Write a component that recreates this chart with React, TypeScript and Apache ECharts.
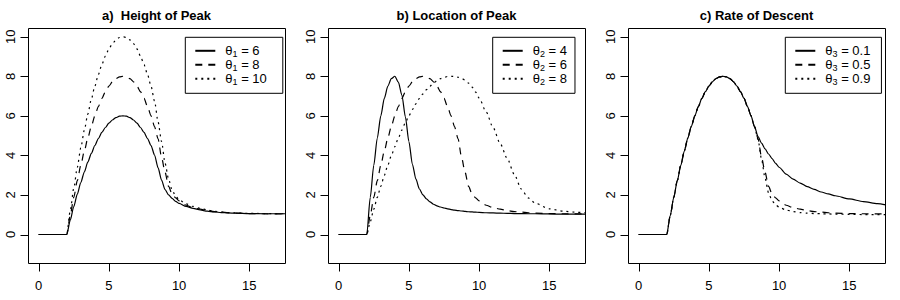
import React, { useEffect, useRef } from "react";
import * as echarts from "echarts";

// ---------- data ----------
const xValues = [
  0, 2, 2.25, 2.5, 2.75, 3, 3.25, 3.5, 3.75, 4, 4.25, 4.5, 4.75, 5, 5.25, 5.5,
  5.75, 6, 6.25, 6.5, 6.75, 7, 7.25, 7.5, 7.75, 8, 8.25, 8.5, 8.75, 9, 9.25,
  9.5, 9.75, 10, 10.5, 11, 11.5, 12, 12.5, 13, 13.5, 14, 15, 16, 17, 17.6,
];

// shared default curve (theta1 = 8, theta2 = 6, theta3 = 0.5)
const baseCurve = [
  0, 0, 0.97, 1.88, 2.72, 3.5, 4.22, 4.88, 5.47, 6,
  6.47, 6.88, 7.22, 7.5, 7.72, 7.88, 7.97, 8, 7.97, 7.88,
  7.72, 7.5, 7.22, 6.88, 6.47, 6.0, 5.45, 4.85, 3.9, 3.15,
  2.43, 2.05, 1.85, 1.7, 1.48, 1.36, 1.28, 1.21, 1.16, 1.13,
  1.1, 1.08, 1.06, 1.05, 1.04, 1.04,
];

const heightPeak6 = [
  0, 0, 0.73, 1.41, 2.04, 2.63, 3.16, 3.66, 4.1, 4.5,
  4.85, 5.16, 5.41, 5.63, 5.79, 5.91, 5.98, 6, 5.98, 5.91,
  5.79, 5.63, 5.41, 5.16, 4.85, 4.5, 4.02, 3.38, 2.75, 2.27,
  2.0, 1.83, 1.68, 1.57, 1.42, 1.32, 1.24, 1.18, 1.14, 1.11,
  1.09, 1.08, 1.06, 1.05, 1.05, 1.05,
];
const heightPeak8 = baseCurve;
const heightPeak10 = [
  0, 0, 1.21, 2.34, 3.4, 4.38, 5.27, 6.09, 6.84, 7.5,
  8.09, 8.59, 9.02, 9.38, 9.65, 9.84, 9.96, 10, 9.96, 9.84,
  9.65, 9.38, 9.02, 8.59, 8.09, 7.5, 6.75, 5.7, 4.7, 3.6,
  2.8, 2.25, 1.95, 1.75, 1.55, 1.42, 1.32, 1.24, 1.18, 1.14,
  1.11, 1.09, 1.07, 1.06, 1.05, 1.05,
];

const locationPeak4 = [
  0, 0, 1.88, 3.5, 4.88, 6, 6.88, 7.5, 7.88, 8,
  7.7, 7.05, 5.95, 4.7, 3.55, 2.8, 2.3, 2.0, 1.8, 1.65,
  1.53, 1.45, 1.39, 1.34, 1.3, 1.26, 1.23, 1.21, 1.19, 1.17,
  1.15, 1.14, 1.13, 1.12, 1.1, 1.09, 1.08, 1.07, 1.06, 1.06,
  1.05, 1.05, 1.04, 1.03, 1.03, 1.03,
];
const locationPeak6 = baseCurve;
const locationPeak8 = [
  0, 0, 0.65, 1.28, 1.88, 2.44, 2.99, 3.5, 3.99, 4.44,
  4.88, 5.28, 5.65, 6.0, 6.32, 6.61, 6.88, 7.11, 7.32, 7.5,
  7.65, 7.78, 7.88, 7.94, 7.99, 8, 7.99, 7.95, 7.9, 7.8,
  7.65, 7.45, 7.2, 6.9, 6.2, 5.4, 4.6, 3.85, 3.05, 2.3,
  1.85, 1.58, 1.3, 1.18, 1.12, 1.1,
];

const rateDescent01 = [
  0, 0, 0.97, 1.88, 2.72, 3.5, 4.22, 4.88, 5.47, 6,
  6.47, 6.88, 7.22, 7.5, 7.72, 7.88, 7.97, 8, 7.97, 7.88,
  7.72, 7.5, 7.22, 6.88, 6.47, 6.0, 5.45, 4.95, 4.62, 4.33,
  4.07, 3.84, 3.6, 3.4, 3.05, 2.8, 2.6, 2.42, 2.28, 2.15,
  2.05, 1.96, 1.8, 1.66, 1.56, 1.5,
];
const rateDescent05 = baseCurve;
const rateDescent09 = [
  0, 0, 0.97, 1.88, 2.72, 3.5, 4.22, 4.88, 5.47, 6,
  6.47, 6.88, 7.22, 7.5, 7.72, 7.88, 7.97, 8, 7.97, 7.88,
  7.72, 7.5, 7.22, 6.88, 6.47, 6.0, 5.45, 4.8, 3.8, 2.85,
  2.1, 1.7, 1.5, 1.38, 1.24, 1.16, 1.11, 1.08, 1.06, 1.05,
  1.04, 1.03, 1.02, 1.01, 1.01, 1.01,
];

const xTicks = [0, 5, 10, 15];
const yTicks = [0, 2, 4, 6, 8, 10];
const panelTitles = ["a)  Height of Peak", "b) Location of Peak", "c) Rate of Descent"];
const legendNames = [
  ["θ1 = 6", "θ1 = 8", "θ1 = 10"],
  ["θ2 = 4", "θ2 = 6", "θ2 = 8"],
  ["θ3 = 0.1", "θ3 = 0.5", "θ3 = 0.9"],
];
const panelSeries = [
  [heightPeak6, heightPeak8, heightPeak10],
  [locationPeak4, locationPeak6, locationPeak8],
  [rateDescent01, rateDescent05, rateDescent09],
];

// ---------- layout / style ----------
const FONT = '"Liberation Sans", Arial, sans-serif';
const boxLefts = [28, 328, 628];
const BOX_TOP = 28;
const BOX_W = 257;
const BOX_H = 235;
const TICK_LEN = 8;
// plot box data limits
const X_MIN = -0.76;
const X_MAX = 17.54;
const Y_MIN = -1.44;
const Y_MAX = 10.44;
// grid extends TICK_LEN px left and below the box so that ticks sit inside it
const GX_MIN = X_MIN - (TICK_LEN * (X_MAX - X_MIN)) / BOX_W;
const GY_MIN = Y_MIN - (TICK_LEN * (Y_MAX - Y_MIN)) / BOX_H;
const legendLefts = [185.3, 492.7, 785.3];
const legendPadRight = [16, 8, 11];
const lineTypes: any[] = ["solid", [7, 6], [2, 4]];

function buildOption() {
  const grid = boxLefts.map((l) => ({
    left: l - TICK_LEN,
    top: BOX_TOP,
    width: BOX_W + TICK_LEN,
    height: BOX_H + TICK_LEN,
    show: false,
  }));
  const xAxis = boxLefts.map((_, i) => ({
    type: "value",
    gridIndex: i,
    position: "bottom",
    min: GX_MIN,
    max: X_MAX,
    axisLine: { show: false, onZero: false },
    splitLine: { show: false },
    axisTick: { show: false },
    axisLabel: { show: true, customValues: xTicks, margin: 8, fontSize: 13, fontFamily: FONT, color: "#000" },
  }));
  const yAxis = boxLefts.map((_, i) => ({
    type: "value",
    gridIndex: i,
    position: "left",
    min: GY_MIN,
    max: Y_MAX,
    axisLine: { show: false, onZero: false },
    splitLine: { show: false },
    axisTick: { show: false },
    axisLabel: { show: true, customValues: yTicks, rotate: 90, margin: 3, fontSize: 13, fontFamily: FONT, color: "#000" },
  }));
  const series: any[] = [];
  panelSeries.forEach((curves, p) => {
    curves.forEach((ys, k) => {
      series.push({
        type: "line",
        name: legendNames[p][k],
        xAxisIndex: p,
        yAxisIndex: p,
        data: xValues.map((x, j) => [x, ys[j]]),
        symbol: "none",
        showSymbol: false,
        smooth: 0.25,
        smoothMonotone: "x",
        clip: true,
        z: 3,
        lineStyle: { color: "#000", width: 1.2, type: lineTypes[k] },
        itemStyle: { color: "#000" },
      });
    });
    // plot box
    series.push({
      type: "custom",
      xAxisIndex: p,
      yAxisIndex: p,
      silent: true,
      z: 2,
      encode: { x: 0, y: 1 },
      data: [[X_MIN, Y_MIN, X_MAX, Y_MAX]],
      renderItem: (_params: any, api: any) => {
        const a = api.coord([api.value(0), api.value(3)]);
        const b = api.coord([api.value(2), api.value(1)]);
        const x0 = Math.round(a[0]) + 0.5;
        const y0 = Math.round(a[1]) + 0.5;
        return {
          type: "rect",
          shape: { x: x0, y: y0, width: Math.round(b[0]) - Math.round(a[0]), height: Math.round(b[1]) - Math.round(a[1]) },
          style: { fill: "none", stroke: "#000", lineWidth: 1 },
        };
      },
    });
    // x tick marks
    series.push({
      type: "custom",
      xAxisIndex: p,
      yAxisIndex: p,
      silent: true,
      z: 2,
      encode: { x: 0, y: 1 },
      data: xTicks.map((v) => [v, Y_MIN]),
      renderItem: (_params: any, api: any) => {
        const c = api.coord([api.value(0), api.value(1)]);
        const x = Math.round(c[0]) + 0.5;
        const y = Math.round(c[1]) + 0.5;
        return {
          type: "line",
          shape: { x1: x, y1: y, x2: x, y2: y + TICK_LEN },
          style: { stroke: "#000", lineWidth: 1 },
        };
      },
    });
    // y tick marks
    series.push({
      type: "custom",
      xAxisIndex: p,
      yAxisIndex: p,
      silent: true,
      z: 2,
      encode: { x: 0, y: 1 },
      data: yTicks.map((v) => [X_MIN, v]),
      renderItem: (_params: any, api: any) => {
        const c = api.coord([api.value(0), api.value(1)]);
        const x = Math.round(c[0]) + 0.5;
        const y = Math.round(c[1]) + 0.5;
        return {
          type: "line",
          shape: { x1: x - TICK_LEN, y1: y, x2: x, y2: y },
          style: { stroke: "#000", lineWidth: 1 },
        };
      },
    });
  });
  const legend = legendNames.map((names, p) => ({
    data: names,
    orient: "vertical",
    left: legendLefts[p],
    top: 37.3,
    padding: [7, legendPadRight[p], 7, 9],
    itemWidth: 20,
    itemHeight: 15,
    itemGap: 0,
    borderColor: "#000",
    borderWidth: 1,
    borderRadius: 0,
    backgroundColor: "#fff",
    selectedMode: false,
    itemStyle: { opacity: 0 },
    lineStyle: { width: 2 },
    formatter: (name: string) => {
      const sub = name.charAt(1);
      const val = name.split("=")[1].trim();
      return `{g|θ}{s|${sub}}{t| = ${val}}`;
    },
    textStyle: {
      fontSize: 13,
      fontFamily: FONT,
      color: "#000",
      rich: {
        g: { fontSize: 13, fontFamily: FONT, color: "#000", lineHeight: 15, padding: [0, 0, 0, 5] },
        t: { fontSize: 13, fontFamily: FONT, color: "#000", lineHeight: 15 },
        s: { fontSize: 9, fontFamily: FONT, color: "#000", lineHeight: 9, verticalAlign: "bottom" },
      },
    },
  }));
  const graphic = panelTitles.map((t, p) => ({
    type: "text",
    x: boxLefts[p] + BOX_W / 2,
    y: 15.5,
    style: {
      text: t,
      fontSize: 13,
      fontWeight: "bold",
      fontFamily: FONT,
      fill: "#000",
      align: "center",
      verticalAlign: "middle",
    },
  }));
  return {
    animation: false,
    backgroundColor: "#fff",
    grid,
    xAxis,
    yAxis,
    series,
    legend,
    graphic,
  };
}

export default function App() {
  const ref = useRef<HTMLDivElement>(null);
  useEffect(() => {
    if (!ref.current) return;
    const chart = echarts.init(ref.current, undefined, { renderer: "svg" });
    chart.setOption(buildOption() as any);
    return () => chart.dispose();
  }, []);
  return (
    <div
      ref={ref}
      style={{ position: "fixed", left: 0, top: 0, width: 900, height: 300, background: "#fff" }}
    />
  );
}
